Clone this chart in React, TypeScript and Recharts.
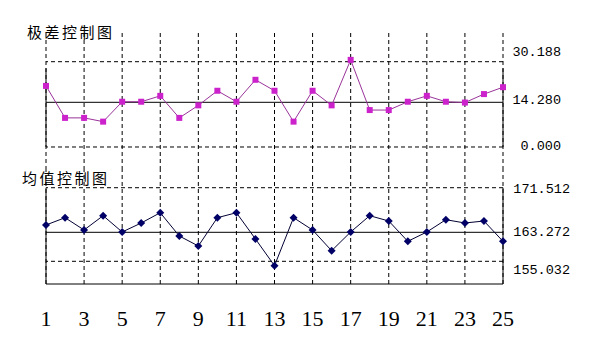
import React from 'react';
import { LineChart, Line, XAxis, YAxis, ReferenceLine } from 'recharts';

// sample numbers (x axis)
const samples = [1, 2, 3, 4, 5, 6, 7, 8, 9, 10, 11, 12, 13, 14, 15, 16, 17, 18, 19, 20, 21, 22, 23, 24, 25];
const gridSamples = [1, 3, 5, 7, 9, 11, 13, 15, 17, 19, 21, 23, 25];

// 极差 (range) chart
const rangeValues = [20.7, 9.3, 9.3, 8.1, 14.5, 14.5, 16.8, 9.3, 13.3, 18.8, 14.5, 23.1, 18.8, 8.1, 18.8, 13.3, 30.9, 11.8, 11.8, 14.5, 16.8, 14.5, 14.2, 17.5, 20.2];
const rangeLimits = [0, 14.28, 30.188]; // LCL, CL, UCL
const rangeLabels = ['0.000', '14.280', '30.188'];

// 均值 (mean) chart
const meanValues = [164.62, 165.97, 163.7, 166.34, 163.33, 164.99, 166.89, 162.22, 159.38, 165.97, 166.89, 161.37, 153.78, 165.97, 163.7, 158.04, 163.33, 166.34, 165.36, 160.71, 163.33, 165.6, 164.99, 165.36, 160.71];
const meanLimits = [155.032, 163.272, 171.512];
const meanLabels = ['155.032', '163.272', '171.512'];

const rangeData = samples.map((n, i) => ({ n, r: rangeValues[i] }));
const meanData = samples.map((n, i) => ({ n, m: meanValues[i] }));

// the original plot isn't linear between its limit lines, so use a piecewise scale
function bentScale(knots: number[], fracs: number[]) {
    let dom = [knots[0], knots[knots.length - 1]];
    let rng = [0, 1];
    const s: any = (v: number) => {
        let i = 1;
        while (i < knots.length - 1 && v > knots[i]) i++;
        const t = fracs[i - 1] + ((v - knots[i - 1]) / (knots[i] - knots[i - 1])) * (fracs[i] - fracs[i - 1]);
        return rng[0] + t * (rng[1] - rng[0]);
    };
    s.domain = (d?: number[]) => {
        if (d === undefined) return dom.slice();
        dom = d.slice();
        return s;
    };
    s.range = (r?: number[]) => {
        if (r === undefined) return rng.slice();
        rng = r.slice();
        return s;
    };
    s.copy = () => bentScale(knots, fracs).domain(dom).range(rng);
    s.ticks = () => knots.slice(1, -1);
    s.tickFormat = () => (v: number) => String(v);
    s.invert = (p: number) => {
        const t = (p - rng[0]) / (rng[1] - rng[0]);
        let i = 1;
        while (i < fracs.length - 1 && t > fracs[i]) i++;
        return knots[i - 1] + ((t - fracs[i - 1]) / (fracs[i] - fracs[i - 1])) * (knots[i] - knots[i - 1]);
    };
    return s;
}

const rangeDomain = [-7.35, 41.82];
const meanDomain = [148.58, 174.78];
const rangeScale = bentScale([-7.35, 0, 14.28, 30.188, 41.82], [0, 0.1667, 0.4906, 0.7848, 1]);
const meanScale = bentScale([148.58, 155.032, 163.272, 171.512, 174.78], [0, 0.1991, 0.4535, 0.8447, 1]);
// solid side frame of the range chart stops a little under the UCL
const rangeFrameTop = 27.6;

const DASH = '4 3';
const labelFont = { fontFamily: '"Liberation Mono", monospace', fontSize: 13.5, fill: '#000' };

const Square = (p: any) =>
    p.cx == null ? null : <rect key={p.index} x={p.cx - 3} y={p.cy - 3} width={6} height={6} fill="#cc22cc" />;

const Diamond = (p: any) =>
    p.cx == null ? null : (
        <polygon
            key={p.index}
            points={`${p.cx},${p.cy - 4} ${p.cx + 4},${p.cy} ${p.cx},${p.cy + 4} ${p.cx - 4},${p.cy}`}
            fill="#000066"
        />
    );

const rangeTickDy = [0, -1.3, -8.7];
const meanTickDy = [9.4, 0.4, 1.6];

const RangeTick = (p: any) => (
    <text x={p.x + 50} y={p.y} dy={rangeTickDy[p.index]} textAnchor="end" dominantBaseline="central" {...labelFont}>
        {rangeLabels[p.index]}
    </text>
);

const MeanTick = (p: any) => (
    <text x={p.x + 59} y={p.y} dy={meanTickDy[p.index]} textAnchor="end" dominantBaseline="central" {...labelFont}>
        {meanLabels[p.index]}
    </text>
);

const titleStyle: React.CSSProperties = {
    position: 'absolute',
    fontFamily: '"Noto Sans CJK SC", sans-serif',
    fontSize: 15,
    lineHeight: '15px',
    letterSpacing: 2.5,
    color: '#000',
};

export default function App() {
    return (
        <div style={{ position: 'absolute', left: 0, top: 0, width: 600, height: 345, background: '#fff', overflow: 'hidden' }}>
            <div style={{ ...titleStyle, left: 27, top: 24 }}>极差控制图</div>
            <div style={{ ...titleStyle, left: 22, top: 170 }}>均值控制图</div>

            <div style={{ position: 'absolute', left: 0, top: 0 }}>
                <LineChart width={600} height={170} data={rangeData} margin={{ top: 32, right: 0, bottom: 0, left: 46 }}>
                    <XAxis dataKey="n" hide padding={{ left: 0, right: 0 }} />
                    <YAxis
                        orientation="right"
                        width={97}
                        type="number"
                        domain={rangeDomain}
                        allowDataOverflow
                        scale={rangeScale}
                        ticks={rangeLimits}
                        axisLine={false}
                        tickLine={false}
                        tick={RangeTick}
                    />
                    {gridSamples.map(n => (
                        <ReferenceLine key={n} x={n} stroke="#000" strokeDasharray={DASH} />
                    ))}
                    <ReferenceLine y={rangeLimits[2]} stroke="#000" strokeDasharray={DASH} />
                    <ReferenceLine y={rangeLimits[1]} stroke="#000" />
                    <ReferenceLine y={rangeLimits[0]} stroke="#000" strokeDasharray={DASH} />
                    <ReferenceLine segment={[{ x: 1, y: rangeLimits[0] }, { x: 1, y: rangeFrameTop }]} stroke="#000" />
                    <ReferenceLine segment={[{ x: 25, y: rangeLimits[0] }, { x: 25, y: rangeFrameTop }]} stroke="#000" />
                    <Line
                        dataKey="r"
                        stroke="#993399"
                        strokeWidth={1}
                        dot={Square}
                        activeDot={false}
                        isAnimationActive={false}
                    />
                </LineChart>
            </div>

            <div style={{ position: 'absolute', left: 0, top: 170 }}>
                <LineChart width={600} height={175} data={meanData} margin={{ top: 0, right: 0, bottom: 0, left: 46 }}>
                    <XAxis
                        dataKey="n"
                        height={61}
                        interval={1}
                        padding={{ left: 0, right: 0 }}
                        tickLine={false}
                        axisLine={{ stroke: '#000' }}
                        tickMargin={20}
                        tick={{ fontFamily: '"Liberation Serif", serif', fontSize: 22, fill: '#000' }}
                    />
                    <YAxis
                        orientation="right"
                        width={97}
                        type="number"
                        domain={meanDomain}
                        allowDataOverflow
                        scale={meanScale}
                        ticks={meanLimits}
                        axisLine={false}
                        tickLine={false}
                        tick={MeanTick}
                    />
                    {gridSamples.map(n => (
                        <ReferenceLine key={n} x={n} stroke="#000" strokeDasharray={DASH} />
                    ))}
                    <ReferenceLine y={meanLimits[2]} stroke="#000" strokeDasharray={DASH} />
                    <ReferenceLine y={meanLimits[1]} stroke="#000" />
                    <ReferenceLine y={meanLimits[0]} stroke="#000" strokeDasharray={DASH} />
                    <ReferenceLine segment={[{ x: 1, y: meanDomain[0] }, { x: 1, y: meanLimits[2] }]} stroke="#000" />
                    <ReferenceLine segment={[{ x: 25, y: meanDomain[0] }, { x: 25, y: meanLimits[2] }]} stroke="#000" />
                    <Line
                        dataKey="m"
                        stroke="#000033"
                        strokeWidth={1}
                        dot={Diamond}
                        activeDot={false}
                        isAnimationActive={false}
                    />
                </LineChart>
            </div>
        </div>
    );
}
